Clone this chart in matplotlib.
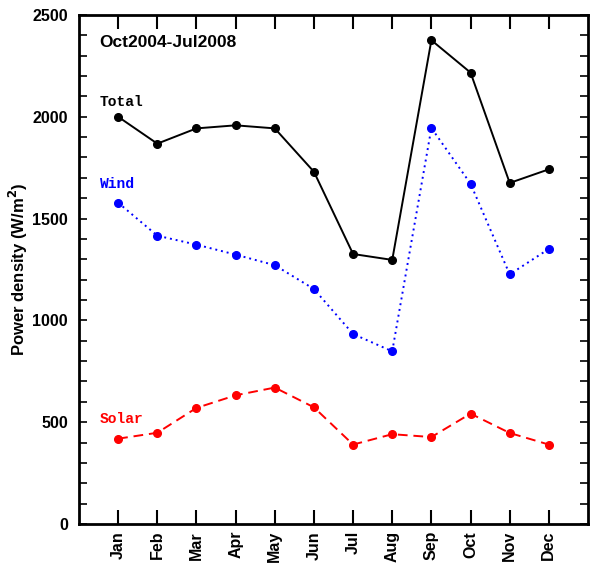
import matplotlib
matplotlib.use("Agg")
import matplotlib.pyplot as plt
from matplotlib.ticker import MultipleLocator

plt.rcParams["font.family"] = ["Liberation Sans", "DejaVu Sans"]

months = ["Jan", "Feb", "Mar", "Apr", "May", "Jun",
          "Jul", "Aug", "Sep", "Oct", "Nov", "Dec"]
total = [2000, 1868, 1943, 1958, 1943, 1730, 1326, 1297, 2376, 2217, 1675, 1742]
wind = [1578, 1416, 1372, 1323, 1271, 1154, 933, 848, 1945, 1671, 1226, 1351]
solar = [419, 448, 570, 632, 670, 573, 390, 441, 427, 542, 447, 390]

x = list(range(1, len(months) + 1))

fig = plt.figure(figsize=(5.93, 5.63), dpi=100)
ax = fig.add_axes([0.1332, 0.0693, 0.8584, 0.9041])

ax.plot(x, total, color="black", lw=1.4, ls="-", marker="o", ms=5.5)
ax.plot(x, wind, color="blue", lw=1.4, ls=(0, (1, 2)), marker="o", ms=5.5)
ax.plot(x, solar, color="red", lw=1.4, ls=(0, (5, 3)), marker="o", ms=5.5)

ax.set_xlim(0, 13)
ax.set_ylim(0, 2500)

ax.set_xticks(x)
ax.set_xticklabels(months, rotation=90, fontsize=11.5, fontweight="bold",
                   va="top", ha="center")
ax.yaxis.set_major_locator(MultipleLocator(500))
ax.yaxis.set_minor_locator(MultipleLocator(100))
for lab in ax.get_yticklabels():
    lab.set_fontsize(11.5)
    lab.set_fontweight("bold")

ax.tick_params(axis="x", which="major", direction="in", length=10, width=1.5,
               top=True, bottom=True, pad=5)
ax.tick_params(axis="y", which="both", direction="in", length=6, width=1.2,
               left=True, right=True, pad=8)
for s in ax.spines.values():
    s.set_linewidth(2)

ax.set_ylabel("Power density (W/m$^\\mathbf{2}$)", fontsize=12,
              fontweight="bold")
ax.yaxis.set_label_coords(-0.097, 0.5)

mono = "Liberation Mono"
ax.text(0.53, 2367, "Oct2004-Jul2008", fontsize=12.5, fontweight="bold",
        va="center", ha="left", color="black")
ax.text(0.53, 2073, "Total", fontsize=10.5, fontweight="bold", family=mono,
        va="center", ha="left", color="black")
ax.text(0.53, 1670, "Wind", fontsize=10.5, fontweight="bold", family=mono,
        va="center", ha="left", color="blue")
ax.text(0.53, 516, "Solar", fontsize=10.5, fontweight="bold", family=mono,
        va="center", ha="left", color="red")

fig.savefig("out.png", dpi=100)
